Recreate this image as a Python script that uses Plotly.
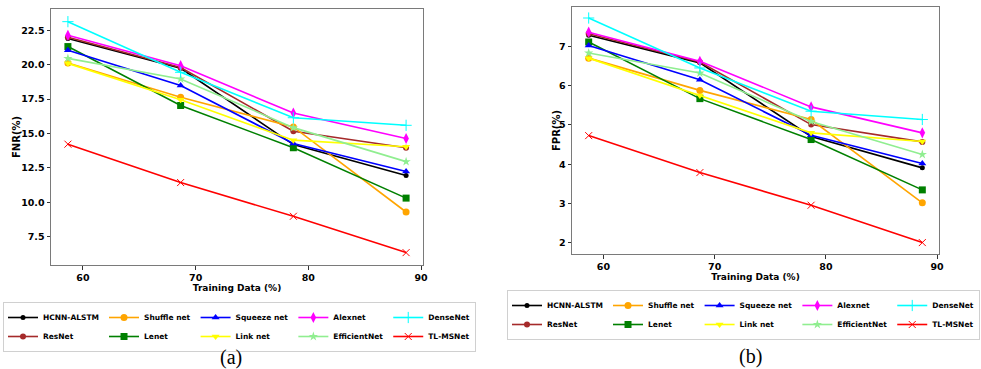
import plotly.graph_objects as go

W, H = 981, 369

training = [58.67, 68.67, 78.67, 88.67]
models = ["HCNN-ALSTM", "ResNet", "Shuffle net", "Lenet", "Squeeze net",
          "Link net", "Alexnet", "EfficientNet", "DenseNet", "TL-MSNet"]

fnr_hcnn = [21.9, 19.74, 14.2, 11.95]
fnr_resnet = [22.0, 19.8, 15.17, 13.97]
fnr_shuffle = [20.12, 17.64, 15.48, 9.3]
fnr_lenet = [21.32, 17.04, 13.97, 10.31]
fnr_squeeze = [21.06, 18.49, 14.28, 12.24]
fnr_link = [20.1, 17.45, 14.52, 14.04]
fnr_alexnet = [22.14, 19.93, 16.49, 14.64]
fnr_efficient = [20.46, 18.97, 15.43, 12.96]
fnr_dense = [23.13, 19.45, 16.15, 15.6]
fnr_tlmsnet = [14.23, 11.44, 8.99, 6.35]

fpr_hcnn = [7.28, 6.58, 4.71, 3.91]
fpr_resnet = [7.32, 6.6, 5.01, 4.57]
fpr_shuffle = [6.7, 5.88, 5.14, 3.02]
fpr_lenet = [7.11, 5.67, 4.63, 3.35]
fpr_squeeze = [7.02, 6.15, 4.74, 4.02]
fpr_link = [6.7, 5.75, 4.8, 4.58]
fpr_alexnet = [7.36, 6.62, 5.46, 4.8]
fpr_efficient = [6.83, 6.32, 5.09, 4.25]
fpr_dense = [7.72, 6.45, 5.35, 5.14]
fpr_tlmsnet = [4.73, 3.79, 2.96, 2.01]

fnr_ticks = [7.5, 10.0, 12.5, 15.0, 17.5, 20.0, 22.5]
fpr_ticks = [2, 3, 4, 5, 6, 7]
x_ticks = [60, 70, 80, 90]

fnr_series = [fnr_hcnn, fnr_resnet, fnr_shuffle, fnr_lenet, fnr_squeeze,
              fnr_link, fnr_alexnet, fnr_efficient, fnr_dense, fnr_tlmsnet]
fpr_series = [fpr_hcnn, fpr_resnet, fpr_shuffle, fpr_lenet, fpr_squeeze,
              fpr_link, fpr_alexnet, fpr_efficient, fpr_dense, fpr_tlmsnet]

colors = ["black", "#a52a2a", "orange", "green", "blue", "yellow",
          "magenta", "lightgreen", "cyan", "red"]
symbols = ["circle", "circle", "circle", "square", "triangle-up",
           "triangle-down", "diamond-tall", "star", "cross-thin", "x-thin"]
sizes = [5, 6, 7, 7, 7, 7, 8, 7, 8, 7]
groups = ["c1", "c1", "c2", "c2", "c3", "c3", "c4", "c4", "c5", "c5"]

fig = go.Figure()


def px_x(p):
    return p / W


def px_y(p):
    return 1 - p / H


for panel, series, xa, ya, leg in [(0, fnr_series, "x", "y", "legend"),
                                   (1, fpr_series, "x2", "y2", "legend2")]:
    for i, name in enumerate(models):
        thin = symbols[i] in ("cross-thin", "x-thin")
        fig.add_trace(go.Scatter(
            x=training, y=series[i], name=name, mode="lines+markers",
            xaxis=xa, yaxis=ya, legend=leg, legendgroup=groups[i] + str(panel),
            line=dict(color=colors[i], width=1.6),
            marker=dict(symbol=symbols[i], size=sizes[i], color=colors[i],
                        line=dict(color=colors[i], width=1 if thin else 0)),
        ))

tickfont = dict(family="DejaVu Sans", size=9.5, color="black", weight="bold")
xtitle_font = dict(family="DejaVu Sans", size=9, weight="bold", color="black")
axis_common = dict(showline=True, linecolor="#7a7a7a", linewidth=1, mirror=True,
                   ticks="outside", ticklen=3.5, tickwidth=1, tickcolor="#333",
                   showgrid=False, zeroline=False, tickfont=tickfont,
                   automargin=False)
legend_common = dict(orientation="h", traceorder="grouped",
                     yanchor="top", bordercolor="#d0d0d0", borderwidth=1,
                     bgcolor="white", itemwidth=30, tracegroupgap=0,
                     font=dict(family="DejaVu Sans", size=7.5, weight="bold",
                               color="black"))

fig.update_layout(
    template="none",
    width=W, height=H, margin=dict(l=0, r=0, t=0, b=0, autoexpand=False),
    paper_bgcolor="white", plot_bgcolor="white",
    xaxis=dict(domain=[px_x(51), px_x(423)], range=[57.17, 90.17],
               tickvals=x_ticks, anchor="y",
               title=dict(text="Training Data (%)", standoff=2, font=xtitle_font),
               **axis_common),
    yaxis=dict(domain=[px_y(265), px_y(9)], range=[5.45, 24.05],
               tickvals=fnr_ticks, tickformat=".1f", anchor="x",
               **axis_common),
    xaxis2=dict(domain=[px_x(572), px_x(939)], range=[57.17, 90.17],
                tickvals=x_ticks, anchor="y2",
                title=dict(text="Training Data (%)", standoff=2, font=xtitle_font),
                **axis_common),
    yaxis2=dict(domain=[px_y(254), px_y(7)], range=[1.72, 8.0],
                tickvals=fpr_ticks, anchor="x2",
                **axis_common),
    legend=dict(x=px_x(3), xanchor="left", y=px_y(302), **legend_common),
    legend2=dict(x=px_x(980), xanchor="right", y=px_y(290), **legend_common),
    annotations=[
        dict(text="FNR(%)", x=px_x(16), y=px_y(137), xref="paper", yref="paper",
             showarrow=False, textangle=-90, xanchor="center", yanchor="middle",
             font=dict(family="DejaVu Sans", size=10, weight="bold", color="black")),
        dict(text="FPR(%)", x=px_x(556), y=px_y(131), xref="paper", yref="paper",
             showarrow=False, textangle=-90, xanchor="center", yanchor="middle",
             font=dict(family="DejaVu Sans", size=10, weight="bold", color="black")),
        dict(text="(a)", x=px_x(231), y=px_y(357), xref="paper", yref="paper",
             showarrow=False, xanchor="center", yanchor="middle",
             font=dict(family="Liberation Serif", size=20, color="black")),
        dict(text="(b)", x=px_x(750), y=px_y(356), xref="paper", yref="paper",
             showarrow=False, xanchor="center", yanchor="middle",
             font=dict(family="Liberation Serif", size=20, color="black")),
    ],
    showlegend=True,
)

fig.write_html("out.html")
